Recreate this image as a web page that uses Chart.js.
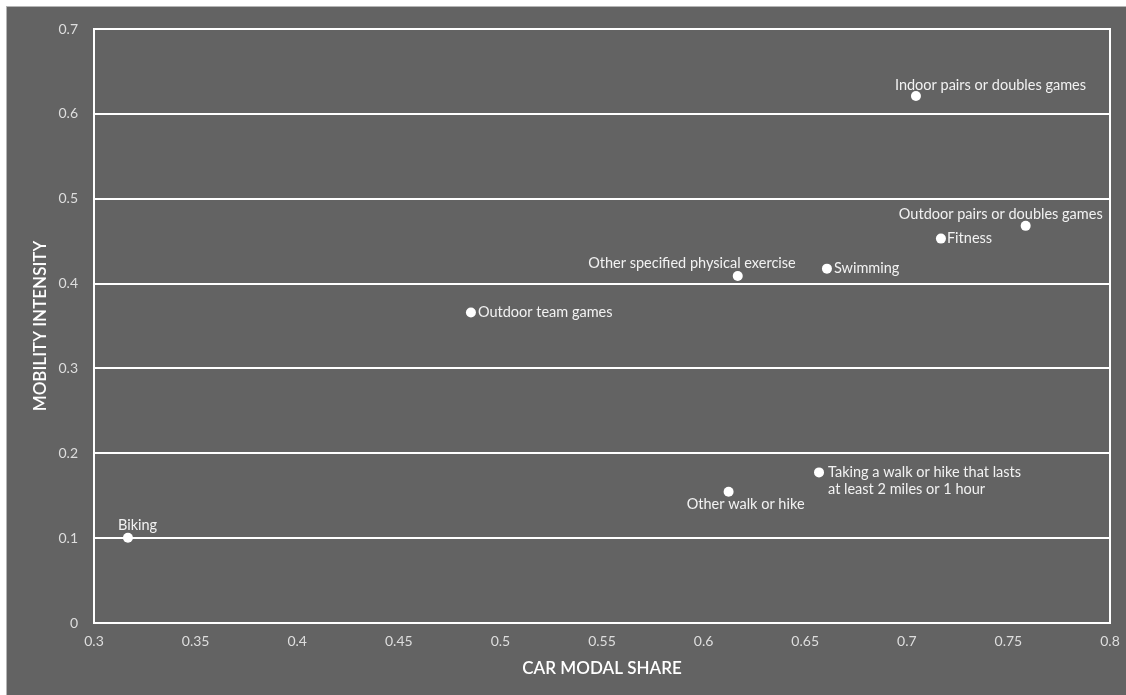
<!DOCTYPE html>
<html>
<head>
<meta charset="utf-8">
<script src="https://cdn.jsdelivr.net/npm/chart.js@4"></script>
<style>
  body { margin: 0; background: #fff; overflow: hidden; }
  #wrap { position: absolute; left: 6px; top: 6px; width: 1120px; height: 689px;
          background: #636363; border-left: 1px solid #b5b5b5; border-top: 1px solid #b5b5b5; }
</style>
</head>
<body>
<div id="wrap"><canvas id="myChart"></canvas></div>
<script>
const activities = [
  'Indoor pairs or doubles games',
  'Outdoor pairs or doubles games',
  'Fitness',
  'Other specified physical exercise',
  'Swimming',
  'Outdoor team games',
  'Other walk or hike',
  ['Taking a walk or hike that lasts', 'at least 2 miles or 1 hour'],
  'Biking'
];
const carShare = [0.7045, 0.7585, 0.7168, 0.6168, 0.6607, 0.4855, 0.6123, 0.6568, 0.3167];
const mobility = [0.621, 0.468, 0.453, 0.409, 0.4176, 0.366, 0.1547, 0.1775, 0.1004];
const xTicks = [0.3, 0.35, 0.4, 0.45, 0.5, 0.55, 0.6, 0.65, 0.7, 0.75, 0.8];
const yTicks = [0, 0.1, 0.2, 0.3, 0.4, 0.5, 0.6, 0.7];

// label placement relative to each point: dx, dy, align
const labelPos = [
  [-21, -11, 'left'],
  [77, -12, 'right'],
  [6, 0, 'left'],
  [58, -13, 'right'],
  [7, 0, 'left'],
  [7, 0, 'left'],
  [17, 13, 'center'],
  [9, 0, 'left'],
  [-10, -12, 'left']
];

const pts = carShare.map((x, i) => ({ x: x, y: mobility[i] }));

const pointLabels = {
  id: 'pointLabels',
  afterDatasetsDraw(chart) {
    const c = chart.ctx;
    const meta = chart.getDatasetMeta(0);
    c.save();
    c.font = '14.5px Lato';
    c.fillStyle = '#f2f2f2';
    c.textBaseline = 'middle';
    meta.data.forEach((el, i) => {
      const p = labelPos[i];
      c.textAlign = p[2];
      const lines = Array.isArray(activities[i]) ? activities[i] : [activities[i]];
      lines.forEach((t, j) => c.fillText(t, el.x + p[0], el.y + p[1] + j * 17));
    });
    c.restore();
  }
};

const frame = {
  id: 'frame',
  afterDraw(chart) {
    const a = chart.chartArea;
    const c = chart.ctx;
    c.save();
    c.strokeStyle = '#ffffff';
    c.lineWidth = 2;
    c.strokeRect(a.left, a.top, a.right - a.left, a.bottom - a.top);
    c.restore();
  }
};

const ctx = document.getElementById('myChart');
new Chart(ctx, {
  type: 'scatter',
  data: {
    datasets: [{
      data: pts,
      backgroundColor: '#ffffff',
      borderWidth: 0,
      pointRadius: 5
    }]
  },
  options: {
    responsive: true,
    maintainAspectRatio: false,
    animation: false,
    layout: { padding: { top: 22, right: 17, left: 0, bottom: 0 } },
    plugins: { legend: { display: false }, tooltip: { enabled: false } },
    scales: {
      x: {
        min: 0.3, max: 0.8,
        afterBuildTicks: s => { s.ticks = xTicks.map(v => ({ value: v })); },
        afterFit: s => { s.height = 73; s.paddingRight = 0; s.paddingLeft = 0; },
        grid: { display: false, drawTicks: false },
        border: { display: false },
        ticks: { color: '#dedede', font: { family: 'Lato', size: 14 }, padding: 10,
                 maxRotation: 0, callback: v => String(+v.toFixed(2)) },
        title: { display: true, text: 'CAR MODAL SHARE', color: '#ffffff',
                 font: { family: 'Lato', size: 17, weight: '600' }, padding: { top: 0, bottom: 17 } }
      },
      y: {
        min: 0, max: 0.7,
        afterBuildTicks: s => { s.ticks = yTicks.map(v => ({ value: v })); },
        afterFit: s => { s.width = 87; s.paddingTop = 0; s.paddingBottom = 0; },
        grid: { color: '#ffffff', lineWidth: 2, drawTicks: false },
        border: { display: false },
        ticks: { color: '#dedede', font: { family: 'Lato', size: 14 }, padding: 16,
                 callback: v => String(+v.toFixed(1)) },
        title: { display: true, text: 'MOBILITY INTENSITY', color: '#ffffff',
                 font: { family: 'Lato', size: 17, weight: '600' }, padding: { top: 23, bottom: 0 } }
      }
    }
  },
  plugins: [pointLabels, frame]
});
</script>
</body>
</html>
